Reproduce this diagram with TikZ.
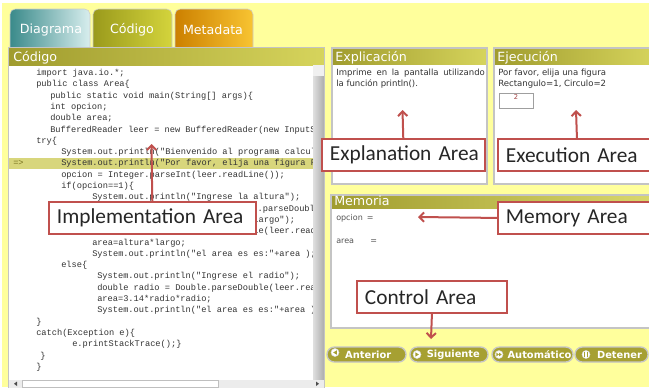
\documentclass[tikz,border=0pt]{standalone}
\usepackage{fontspec}
\setmainfont{DejaVu Sans}
\newfontfamily\calloutfont{Carlito}
\newfontfamily\codefont{Liberation Mono}
\usetikzlibrary{arrows.meta}
\definecolor{bgyellow}{HTML}{FFFF9C}
\definecolor{olivedk}{HTML}{A09C2E}
\definecolor{olivelt}{HTML}{D6D45C}
\definecolor{tealdk}{HTML}{3A8A8A}
\definecolor{teallt}{HTML}{D8EEEE}
\definecolor{tabolivedk}{HTML}{9A9A1C}
\definecolor{tabolivelt}{HTML}{D4D43C}
\definecolor{orangedk}{HTML}{CC8000}
\definecolor{orangelt}{HTML}{F8C432}
\definecolor{rowhl}{HTML}{D8D67C}
\definecolor{markolive}{HTML}{7A7420}
\definecolor{btnolive}{HTML}{A6A032}
\definecolor{calloutred}{HTML}{C0504D}
\definecolor{codegray}{HTML}{333333}
\definecolor{memgray}{HTML}{555555}
\definecolor{inred}{HTML}{A04040}
\definecolor{panelline}{HTML}{C4C4C4}

\tikzset{
  tabtxt/.style={inner sep=0pt, text=white, font=\fontsize{9.5}{11}\selectfont},
  headtxt/.style={anchor=base west, inner sep=0pt, text=white, font=\fontsize{9.5}{11}\selectfont},
  codetxt/.style={anchor=base west, inner sep=0pt, text=codegray, font=\codefont\fontsize{6.5}{8}\selectfont},
  uitxt/.style={anchor=base west, inner sep=0pt, text=codegray, font=\fontsize{6.4}{8}\selectfont},
  memtxt/.style={anchor=base west, inner sep=0pt, text=memgray, font=\fontsize{6}{7}\selectfont},
  btn/.style={rounded corners=5.5pt, fill=btnolive, draw=gray!45, line width=1pt,
              minimum height=11.25pt, inner sep=0pt, text=white,
              font=\bfseries\fontsize{7.4}{9}\selectfont},
  btnicon/.style={fill=white, draw=gray!30, line width=0.4pt},
  callout/.style={draw=calloutred, line width=1.4pt, fill=white, anchor=north west,
                  minimum height=24pt, inner xsep=6pt, inner ysep=0pt,
                  text width=#1, align=left, text=black!85,
                  font=\calloutfont\fontsize{16}{18}\selectfont},
  pointer/.style={draw=calloutred, line width=1.5pt, -{Straight Barb[length=3.5pt,width=7pt]}}
}
\newcommand\codeline[3]{\node[codetxt] (code#2) at (#1,{75.5+11.3*#2}) {#3};}

\begin{document}
\begin{tikzpicture}[x=0.75pt, y=-0.75pt]
  \useasboundingbox (0,0) rectangle (649,387);
  \clip (0,0) rectangle (649,387);
  \fill[white] (0,0) rectangle (649,387);
  \fill[bgyellow] (2,3) rectangle (649,387);

  % tabs
  \shadedraw[left color=tealdk, right color=teallt, draw=gray!40, rounded corners=4pt] (10,9) rectangle (90,58);
  \shadedraw[left color=tabolivedk, right color=tabolivelt, draw=gray!40, rounded corners=4pt] (93,9) rectangle (172,58);
  \shadedraw[left color=orangedk, right color=orangelt, draw=gray!40, rounded corners=4pt] (175,9) rectangle (253,58);
  \node[tabtxt] (tabdiag) at (51,30) {Diagrama};
  \node[tabtxt] (tabcode) at (132,30) {Código};
  \node[tabtxt] (tabmeta) at (213,30) {Metadata};

  % code panel
  \fill[white] (9,65) rectangle (313,380);
  \shade[left color=olivedk, right color=olivelt] (9,48) rectangle (324,65);
  \node[headtxt] (codehead) at (13,61) {Código};
  \fill[rowhl] (9,158) rectangle (313,169);
  \node[codetxt, text=markolive] (marker) at (13,{75.5+11.3*8}) {=>};
  \begin{scope}
    \clip (9,65) rectangle (313,380);
    \codeline{36}{0}{import java.io.*;}
    \codeline{36}{1}{public class Area\{}
    \codeline{50}{2}{public static void main(String[] args)\{}
    \codeline{50}{3}{int opcion;}
    \codeline{50}{4}{double area;}
    \codeline{50}{5}{BufferedReader leer = new BufferedReader(new InputStreamReader(System.in));}
    \codeline{36}{6}{try\{}
    \codeline{61}{7}{System.out.println("Bienvenido al programa calculadora");}
    \codeline{61}{8}{System.out.println("Por favor, elija una figura Rectangulo=1, Circulo=2");}
    \codeline{61}{9}{opcion = Integer.parseInt(leer.readLine());}
    \codeline{61}{10}{if(opcion==1)\{}
    \codeline{92}{11}{System.out.println("Ingrese la altura");}
    \codeline{143}{12}{double altura = Double.parseDouble(leer.readLine());}
    \codeline{92}{13}{System.out.println("Ingrese el largo");}
    \codeline{92}{14}{double largo = Double.parseDouble(leer.readLine());}
    \codeline{92}{15}{area=altura*largo;}
    \codeline{92}{16}{System.out.println("el area es es:"+area );}
    \codeline{61}{17}{else\{}
    \codeline{97}{18}{System.out.println("Ingrese el radio");}
    \codeline{97}{19}{double radio = Double.parseDouble(leer.readLine());}
    \codeline{97}{20}{area=3.14*radio*radio;}
    \codeline{97}{21}{System.out.println("el area es es:"+area )}
    \codeline{36}{22}{\}}
    \codeline{36}{23}{catch(Exception e)\{}
    \codeline{72}{24}{e.printStackTrace();\}}
    \codeline{40}{25}{\}}
    \codeline{36}{26}{\}}
  \end{scope}
  % scrollbars
  \shade[left color=gray!25, right color=gray!65] (313,65) rectangle (324,380);
  \fill[gray!12] (313,65) rectangle (324,76);
  \fill[gray!15] (9,380) rectangle (324,390);
  \draw[gray!50, fill=white] (22,380.5) rectangle (218,387);
  \fill[black!70] (17,381.5) -- (17,386) -- (14,383.75) -- cycle;
  \fill[black!70] (316,381.5) -- (316,386) -- (319,383.75) -- cycle;
  \draw[panelline, line width=1pt] (8.5,47.5) rectangle (324.5,392);

  % explanation panel
  \fill[white] (332,64) rectangle (487,184);
  \shade[left color=olivedk, right color=olivelt] (332,48) rectangle (487,64);
  \draw[panelline, line width=1pt] (332,48) rectangle (487,184);
  \node[headtxt] (explhead) at (335,61) {Explicación};
  \node[uitxt] (expl1) at (336,75.5) {\makebox[111.5pt][s]{Imprime en la pantalla utilizando}};
  \node[uitxt] (expl2) at (336,86.5) {la función println().};

  % execution panel
  \fill[white] (494,64) rectangle (655,184);
  \shade[left color=olivedk, right color=olivelt] (494,48) rectangle (655,64);
  \draw[panelline, line width=1pt] (494,48) rectangle (655,184);
  \node[headtxt] (exechead) at (497,61) {Ejecución};
  \node[uitxt] (exec1) at (498,75.5) {Por favor, elija una figura};
  \node[uitxt] (exec2) at (498,86.5) {Rectangulo=1, Circulo=2};
  \node[draw=gray!75, line width=0.6pt, anchor=north west, minimum width=25.5pt,
        minimum height=11.25pt, inner sep=0pt] (inbox) at (499,93) {};
  \node[inner sep=0pt, text=inred, font=\fontsize{5}{6}\selectfont] (inval) at (516,97.5) {2};

  % memory panel
  \fill[white] (331,208) rectangle (655,328);
  \shade[left color=olivedk, right color=olivelt!90] (331,195) rectangle (655,208);
  \draw[panelline, line width=1pt] (331,195) rectangle (655,328);
  \node[headtxt] (memhead) at (334,205.5) {Memoria};
  \node[memtxt] (memop) at (336,220.5) {opcion\enspace=};
  \node[memtxt] (memarea) at (336,243.5) {area};
  \node[memtxt] (memeq) at (370,243.5) {=};

  % control buttons
  \node[btn, minimum width=59.25pt] (anterior) at (366.5,354.5) {\hspace*{2.5pt}Anterior};
  \node[btn, minimum width=58.5pt] (siguiente) at (449,354.5) {\hspace*{6.5pt}Siguiente};
  \node[btn, minimum width=60.75pt] (automatico) at (532.5,354.5) {\hspace*{10.5pt}Automático};
  \node[btn, minimum width=54.75pt] (detener) at (611.5,354.5) {\hspace*{12pt}Detener};
  \filldraw[btnicon] (335,352.5) circle (4);
  \fill[btnolive] (336.8,350.3) -- (336.8,354.7) -- (333.2,352.5) -- cycle;
  \filldraw[btnicon] (417,354.5) circle (4);
  \fill[btnolive] (415.3,352.3) -- (415.3,356.7) -- (418.9,354.5) -- cycle;
  \filldraw[btnicon] (499,354.5) circle (4);
  \fill[btnolive] (496.3,352.6) -- (496.3,356.4) -- (499,354.5) -- cycle;
  \fill[btnolive] (499,352.6) -- (499,356.4) -- (501.7,354.5) -- cycle;
  \filldraw[btnicon] (586,354.5) circle (4);
  \fill[btnolive] (584,352.3) rectangle (585.3,356.7);
  \fill[btnolive] (586.7,352.3) rectangle (588,356.7);

  % callouts
  \node[callout=143pt] (implarea) at (48,201) {Implementation~Area};
  \node[callout=110pt] (explarea) at (321,138) {Explanation~Area};
  \node[callout=106.5pt] (execarea) at (497,138) {Execution~Area};
  \node[callout=108pt] (memarea) at (497,201) {Memory~Area};
  \node[callout=100.5pt] (ctrlarea) at (356,280) {Control~Area};
  \coordinate (impltip) at (151.5,144);
  \coordinate (expltip) at (402.5,110);
  \coordinate (exectip) at (576,110);
  \coordinate (memtip) at (418,217);
  \coordinate (ctrltip) at (431,339);
  \draw[pointer] (implarea.north) -- (impltip);
  \draw[pointer] (explarea.north) -- (expltip);
  \draw[pointer] (execarea.north) -- (exectip);
  \draw[pointer] (memarea.west) -- (memtip);
  \draw[pointer] (ctrlarea.south) -- (ctrltip);
\end{tikzpicture}
\end{document}
